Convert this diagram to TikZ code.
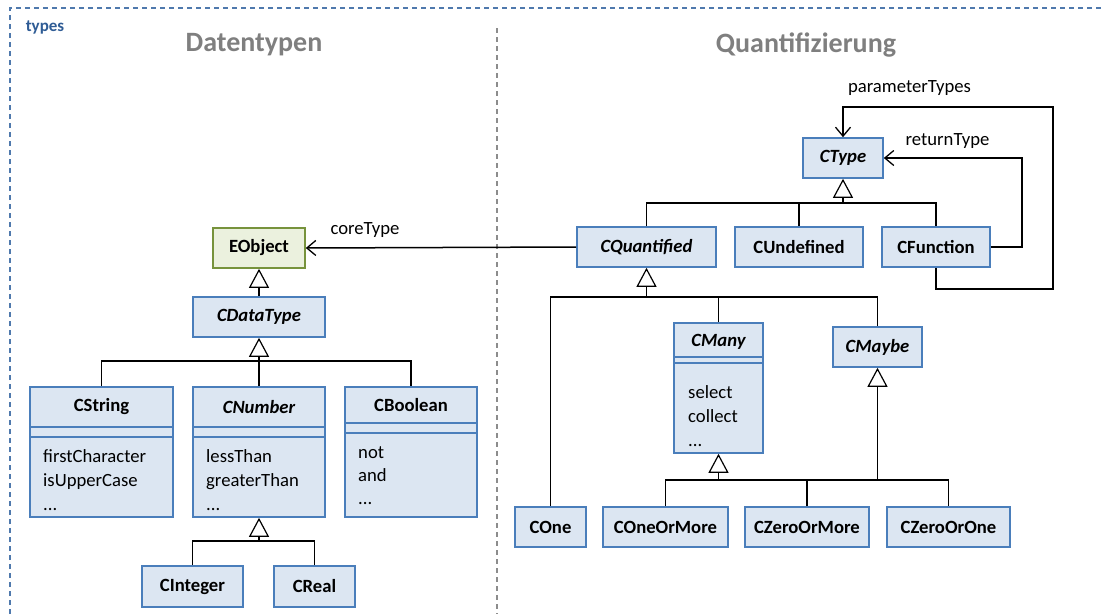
\documentclass[tikz,border=0pt]{standalone}
\usepackage{fontspec}
\setmainfont{Carlito}
\usetikzlibrary{arrows.meta}
\definecolor{boxfill}{HTML}{DCE6F2}
\definecolor{boxdraw}{HTML}{4A7EBB}
\definecolor{gfill}{HTML}{EBF1DE}
\definecolor{gdraw}{HTML}{77933C}
\definecolor{titlec}{HTML}{7F7F7F}
\definecolor{framec}{HTML}{4F79AD}
\definecolor{typesc}{HTML}{2F5C95}
\definecolor{divc}{HTML}{8C8C8C}
\begin{document}
\begin{tikzpicture}[x=1pt,y=-1pt,
  cls/.style={draw=boxdraw, fill=boxfill, line width=1.6pt, inner sep=0pt},
  eobj/.style={draw=gdraw, fill=gfill, line width=1.6pt, inner sep=0pt},
  cname/.style={font=\fontsize{18.67}{22}\selectfont\bfseries, inner sep=0pt},
  aname/.style={font=\fontsize{18.67}{22}\selectfont\bfseries\itshape, inner sep=0pt},
  ops/.style={font=\fontsize{18.67}{24}\selectfont, align=left, anchor=base west, inner sep=0pt},
  sep/.style={draw=boxdraw, line width=1.6pt},
  conn/.style={draw=black, line width=1.5pt},
  gen/.style={conn, -{Triangle[open, length=19pt, width=20pt, fill=white, line width=1.2pt]}},
  assoc/.style={conn, -{Straight Barb[length=9pt, width=15pt, line width=1.3pt]}},
  lbl/.style={font=\fontsize{18.67}{22}\selectfont, inner sep=0pt},
  title/.style={font=\fontsize{28}{32}\selectfont\bfseries, text=titlec, inner sep=0pt},
]
\useasboundingbox (0,0) rectangle (1101,614);
% frame
\draw[framec, line width=1.2pt, dash pattern=on 5pt off 4pt] (10,614) -- (10,8) -- (1101,8);
\node[font=\fontsize{17}{20}\selectfont\bfseries, text=typesc, inner sep=0pt] (types) at (45,27) {types};
\node[title] (t1) at (254,45) {Datentypen};
\node[title] (t2) at (806,45) {Quantifizierung};
\draw[divc, line width=1.2pt, dash pattern=on 5pt off 4pt] (497,28) -- (497,614);

% ---- left side
\node[eobj, minimum width=92pt, minimum height=40pt] (eobject) at (259,248) {};
\node[cname] (eobjectn) at (eobject) {EObject};
\node[cls, minimum width=132pt, minimum height=40pt] (cdatatype) at (259,317) {};
\node[aname] (cdatatypen) at (cdatatype) {CDataType};

\node[cls, minimum width=143pt, minimum height=130pt] (cstring) at (101.5,452) {};
\node[cname] (cstringn) at (101.5,407) {CString};
\draw[sep] (30,427) -- (173,427) (30,437) -- (173,437);
\node[ops] (cstringo) at (43,510) {firstCharacter\\isUpperCase\\...};

\node[cls, minimum width=132pt, minimum height=130pt] (cnumber) at (259,452) {};
\node[aname] (cnumbern) at (259,407) {CNumber};
\draw[sep] (193,427) -- (325,427) (193,437) -- (325,437);
\node[ops] (cnumbero) at (206,510) {lessThan\\greaterThan\\...};

\node[cls, minimum width=132pt, minimum height=130pt] (cboolean) at (411,452) {};
\node[cname] (cbooleann) at (411,405) {CBoolean};
\draw[sep] (345,423) -- (477,423) (345,433) -- (477,433);
\node[ops, font=\fontsize{18.67}{23}\selectfont] (cbooleano) at (358,504) {not\\and\\...};

\node[cls, minimum width=101pt, minimum height=41pt] (cinteger) at (192.5,586.5) {};
\node[cname] (cintegern) at (cinteger) {CInteger};
\node[cls, minimum width=81pt, minimum height=41pt] (creal) at (314.5,586.5) {};
\node[cname] (crealn) at (creal) {CReal};

% ---- right side
\node[cls, minimum width=80pt, minimum height=40pt] (ctype) at (843,158) {};
\node[aname] (ctypen) at (ctype) {CType};
\node[cls, minimum width=139pt, minimum height=40pt] (cquant) at (646.5,247) {};
\node[aname] (cquantn) at (cquant) {CQuantified};
\node[cls, minimum width=128pt, minimum height=40pt] (cundef) at (799,247) {};
\node[cname] (cundefn) at (cundef) {CUndefined};
\node[cls, minimum width=108pt, minimum height=40pt] (cfunc) at (936,247) {};
\node[cname] (cfuncn) at (cfunc) {CFunction};

\node[cls, minimum width=89pt, minimum height=130pt] (cmany) at (718.5,388) {};
\node[aname] (cmanyn) at (718.5,342) {CMany};
\draw[sep] (674,357) -- (763,357) (674,363) -- (763,363);
\node[ops] (cmanyo) at (688,446) {select\\collect\\...};

\node[cls, minimum width=89pt, minimum height=40pt] (cmaybe) at (877.5,347) {};
\node[aname] (cmayben) at (cmaybe) {CMaybe};

\node[cls, minimum width=71pt, minimum height=40pt] (cone) at (550.5,527) {};
\node[cname] (conen) at (cone) {COne};
\node[cls, minimum width=125pt, minimum height=40pt] (coneom) at (665.5,527) {};
\node[cname] (coneomn) at (coneom) {COneOrMore};
\node[cls, minimum width=124pt, minimum height=40pt] (czeroom) at (807,527) {};
\node[cname] (czeroomn) at (czeroom) {CZeroOrMore};
\node[cls, minimum width=123pt, minimum height=40pt] (czerooo) at (948.5,527) {};
\node[cname] (czerooon) at (czerooo) {CZeroOrOne};

% ---- generalizations
\draw[gen] (cdatatype.north) -- (eobject.south);

\coordinate (dtbar) at (259,361);
\draw[conn] (cstring.north) |- (dtbar) -| (cboolean.north);
\draw[conn] (cnumber.north) -- (dtbar);
\draw[gen] (dtbar) -- (cdatatype.south);

\coordinate (nbar) at (259,541);
\draw[conn] (cinteger.north) |- (nbar) -| (creal.north);
\draw[gen] (nbar) -- (cnumber.south);

\coordinate (tbar) at (843,203);
\draw[conn] (cquant.north) |- (tbar) -| (cfunc.north);
\draw[conn] (cundef.north) |- (tbar);
\draw[gen] (tbar) -- (ctype.south);

\coordinate (qbar) at (646.5,297);
\draw[conn] (cone.north) |- (qbar) -| (cmaybe.north);
\draw[conn] (cmany.north) |- (qbar);
\draw[gen] (qbar) -- (cquant.south);

\coordinate (mbar) at (718.5,480);
\draw[conn] (coneom.north) |- (mbar) -| (czeroom.north);
\draw[gen] (mbar) -- (cmany.south);

\coordinate (ybar) at (877.5,480);
\draw[conn] (czeroom.north) |- (ybar) -| (czerooo.north);
\draw[gen] (ybar) -- (cmaybe.south);

% ---- associations
\draw[assoc] (cquant.west) -- (eobject.east);
\node[lbl] (lcore) at (365,230) {coreType};

\coordinate (rtc) at (1022,247);
\draw[assoc] (cfunc.east) -- (rtc) |- (ctype.east);
\node[lbl] (lret) at (947.5,141) {returnType};

\coordinate (ptc1) at (1053,289);
\coordinate (ptc2) at (843,107);
\draw[assoc] (cfunc.south) |- (ptc1) |- (ptc2) -- (ctype.north);
\node[lbl] (lpar) at (909.5,88) {parameterTypes};
\end{tikzpicture}
\end{document}
